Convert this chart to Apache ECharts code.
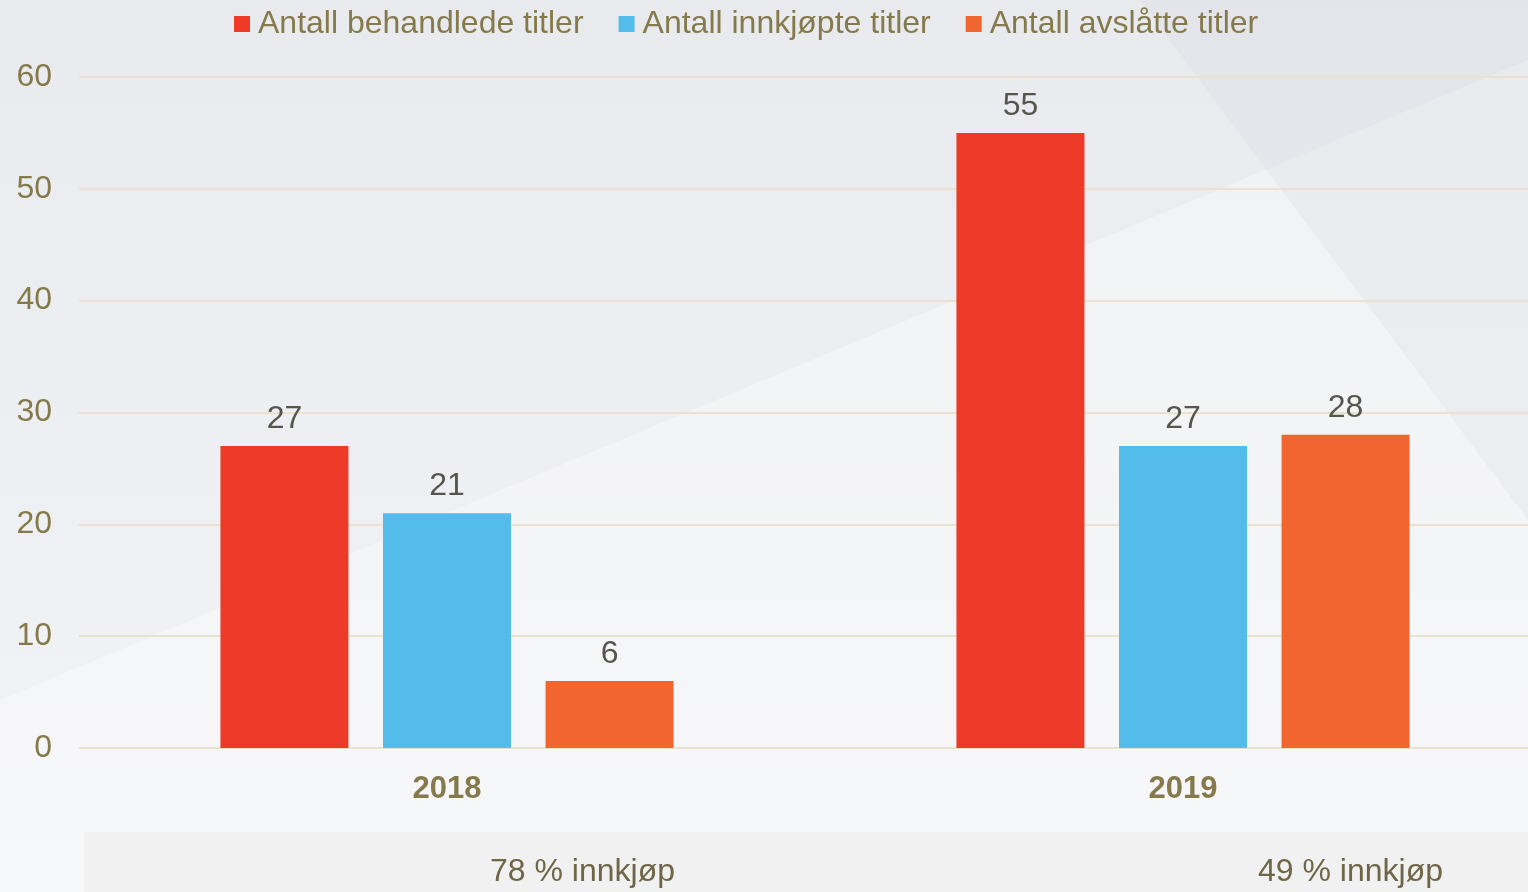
<!DOCTYPE html>
<html>
<head>
<meta charset="utf-8">
<script src="https://cdn.jsdelivr.net/npm/echarts@6/dist/echarts.min.js"></script>
<style>
  html, body { margin: 0; padding: 0; }
  #main { width: 1528px; height: 892px; }
</style>
</head>
<body>
<div id="main"></div>
<script>
var years = ['2018', '2019'];
var behandlede = [27, 55];
var innkjopte = [21, 27];
var avslatte = [6, 28];
var notes = ['78 % innkjøp', '49 % innkjøp'];

var chartDom = document.getElementById('main');
var myChart = echarts.init(chartDom);
var option;

var textColor = '#857a4c';
var labelStyle = {
    show: true,
    position: 'top',
    distance: 11,
    color: '#57554e',
    fontSize: 32,
    fontFamily: 'Liberation Sans'
};

option = {
    backgroundColor: {
        type: 'linear', x: 0, y: 0, x2: 0, y2: 1,
        colorStops: [
            { offset: 0, color: '#e8eaee' },
            { offset: 1, color: '#f3f4f6' }
        ]
    },
    graphic: [
        // background shapes
        {
            type: 'polygon', silent: true, z: -10,
            shape: { points: [[0, 700], [1528, 60], [1528, 892], [0, 892]] },
            style: { fill: 'rgba(255,255,255,0.35)' }
        },
        {
            type: 'polygon', silent: true, z: -10,
            shape: { points: [[1140, 0], [1528, 0], [1528, 520]] },
            style: { fill: 'rgba(210,214,222,0.25)' }
        },
        {
            type: 'rect', silent: true, z: -9,
            shape: { x: 84, y: 832, width: 1444, height: 60 },
            style: { fill: '#f1f1f1' }
        },
        {
            type: 'text', left: 490, top: 856,
            style: { text: notes[0], fill: '#6f6647', fontSize: 32, fontFamily: 'Liberation Sans' }
        },
        {
            type: 'text', left: 1258, top: 856,
            style: { text: notes[1], fill: '#6f6647', fontSize: 32, fontFamily: 'Liberation Sans' }
        }
    ],
    legend: {
        top: 3,
        left: 229,
        itemWidth: 16,
        itemHeight: 16,
        itemGap: 35,
        icon: 'rect',
        textStyle: { color: textColor, fontSize: 32, fontFamily: 'Liberation Sans', padding: [0, 0, 0, 3] },
        data: ['Antall behandlede titler', 'Antall innkjøpte titler', 'Antall avslåtte titler']
    },
    grid: {
        left: 79,
        width: 1472,
        top: 77,
        bottom: 144,
        outerBoundsMode: 'none',
        containLabel: false
    },
    xAxis: {
        type: 'category',
        data: years,
        axisLine: { show: false },
        axisTick: { show: false },
        axisLabel: {
            color: textColor,
            fontSize: 31,
            fontWeight: 'bold',
            fontFamily: 'Liberation Sans',
            margin: 26
        }
    },
    yAxis: {
        type: 'value',
        min: 0,
        max: 60,
        interval: 10,
        axisLabel: {
            color: textColor,
            fontSize: 32,
            fontFamily: 'Liberation Sans',
            margin: 27
        },
        splitLine: { lineStyle: { color: '#e8e2cf', width: 2 } }
    },
    series: [
        {
            name: 'Antall behandlede titler',
            type: 'bar',
            barWidth: 128,
            barGap: '27%',
            itemStyle: { color: '#ee3a28' },
            label: labelStyle,
            data: behandlede
        },
        {
            name: 'Antall innkjøpte titler',
            type: 'bar',
            barWidth: 128,
            barGap: '27%',
            itemStyle: { color: '#53bcea' },
            label: labelStyle,
            data: innkjopte
        },
        {
            name: 'Antall avslåtte titler',
            type: 'bar',
            barWidth: 128,
            barGap: '27%',
            itemStyle: { color: '#f06530' },
            label: labelStyle,
            data: avslatte
        }
    ]
};

option && myChart.setOption(option);
</script>
</body>
</html>
